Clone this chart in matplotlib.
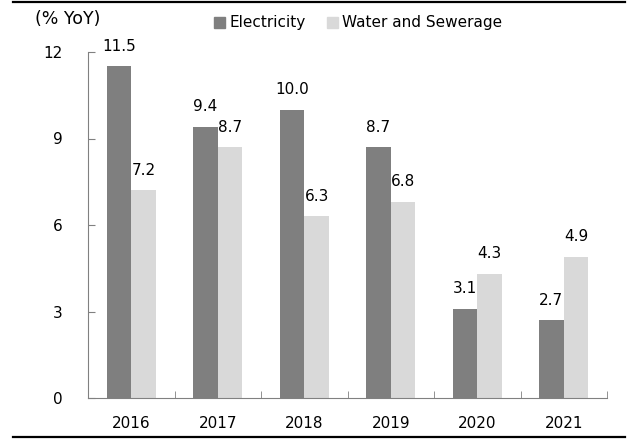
import matplotlib.pyplot as plt
import numpy as np
from matplotlib.lines import Line2D
from matplotlib.patches import Patch

years = ['2016', '2017', '2018', '2019', '2020', '2021']
electricity = [11.5, 9.4, 10.0, 8.7, 3.1, 2.7]
water = [7.2, 8.7, 6.3, 6.8, 4.3, 4.9]

dark = '#7f7f7f'
light = '#d9d9d9'

plt.rcParams['font.family'] = 'DejaVu Sans'
plt.rcParams['font.size'] = 11

fig = plt.figure(figsize=(6.34, 4.42), dpi=100)
ax = fig.add_axes([88/634, 44/442, 519/634, 346/442])

x = np.arange(len(years))
w = 0.285
b1 = ax.bar(x - w/2, electricity, w, color=dark, label='Electricity')
b2 = ax.bar(x + w/2, water, w, color=light, label='Water and Sewerage')

for bars, vals in ((b1, electricity), (b2, water)):
    for r, v in zip(bars, vals):
        ax.annotate(f'{v:.1f}', (r.get_x() + r.get_width()/2, v),
                    xytext=(0, 14.5), textcoords='offset points',
                    ha='center', va='center', clip_on=False)

ax.set_xlim(-0.5, len(years) - 0.5)
ax.set_ylim(0, 12)
ax.set_yticks([0, 3, 6, 9, 12])
ax.tick_params(axis='y', direction='in', length=5, color='#808080', pad=18)
ax.set_xticks(x)
ax.set_xticklabels(years)
ax.set_xticks(np.arange(-0.5, len(years)), minor=True)
ax.tick_params(axis='x', which='major', length=0, pad=13)
ax.tick_params(axis='x', which='minor', direction='in', length=5, color='#808080')

for s in ['top', 'right']:
    ax.spines[s].set_visible(False)
ax.spines['left'].set_color('#808080')
ax.spines['bottom'].set_color('#808080')

fig.text(35/634, 1 - 19/442, '(% YoY)', ha='left', va='center', fontsize=12.5)

ax.legend(handles=[Patch(color=dark, label='Electricity'),
                   Patch(color=light, label='Water and Sewerage')],
          loc='center left', bbox_to_anchor=(214/634, 1 - 23/442),
          bbox_transform=fig.transFigure, ncol=2, frameon=False,
          handlelength=0.7, handleheight=0.7, handletextpad=0.3,
          columnspacing=1.4, borderaxespad=0, borderpad=0)

fig.add_artist(Line2D([13/634, 625/634], [1 - 2/442, 1 - 2/442], color='black', lw=1.6, transform=fig.transFigure))
fig.add_artist(Line2D([13/634, 625/634], [5/442, 5/442], color='black', lw=1.6, transform=fig.transFigure))

fig.savefig('out.png', dpi=100)
